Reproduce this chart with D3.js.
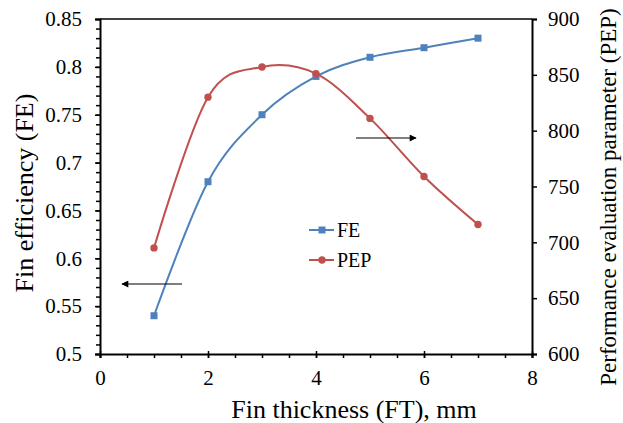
<!DOCTYPE html>
<meta charset="utf-8">
<script src="https://d3js.org/d3.v7.min.js"></script>
<style>
  body { margin: 0; background: #fff; }
  svg, svg text { font-family: "Liberation Serif", "Times New Roman", Times, serif; }
</style>
<body>
<div id="chart"></div>
</body>
<script>
// data
var thickness = [1, 2, 3, 4, 5, 6, 7];
var feValues = [0.54, 0.68, 0.75, 0.79, 0.81, 0.82, 0.83];
var pepValues = [695, 830, 857, 851, 811, 759, 716];
var xTicks = [0, 2, 4, 6, 8];
var feTicks = [0.5, 0.55, 0.6, 0.65, 0.7, 0.75, 0.8, 0.85];
var pepTicks = [600, 650, 700, 750, 800, 850, 900];

var W = 623, H = 423;
var margin = { top: 19, right: 91, bottom: 69, left: 100 },
    width = W - margin.left - margin.right,
    height = H - margin.top - margin.bottom;

var blue = "#4f81bd", red = "#c0504d";

var svg = d3.select("#chart").append("svg")
    .attr("width", W).attr("height", H);

var g = svg.append("g")
    .attr("transform", "translate(" + margin.left + "," + margin.top + ")");

var x = d3.scaleLinear().domain([0, 8]).range([0, width]);
var yL = d3.scaleLinear().domain([0.5, 0.85]).range([height, 0]);
var yR = d3.scaleLinear().domain([600, 900]).range([height, 0]);

// minor ticks
g.append("g")
    .attr("transform", "translate(0," + height + ")")
    .call(d3.axisBottom(x).tickValues(d3.range(0, 8.01, 0.5)).tickSize(4).tickFormat(""))
    .call(s => s.select(".domain").remove());
g.append("g")
    .call(d3.axisLeft(yL).tickValues(d3.range(0.5, 0.851, 0.01)).tickSize(4).tickFormat(""))
    .call(s => s.select(".domain").remove());

// major axes
var xAxis = g.append("g")
    .attr("transform", "translate(0," + height + ")")
    .call(d3.axisBottom(x).tickValues(xTicks).tickSizeOuter(0).tickSize(4).tickFormat(d3.format("d")));
xAxis.selectAll(".tick line").attr("y1", -3);
xAxis.selectAll(".tick text").attr("dy", null).attr("y", 31);

g.append("g")
    .call(d3.axisLeft(yL).tickValues(feTicks).tickSizeOuter(0).tickSize(5).tickPadding(13)
        .tickFormat(d => String(+d.toFixed(2))));

g.append("g")
    .attr("transform", "translate(" + width + ",0)")
    .call(d3.axisRight(yR).tickValues(pepTicks).tickSizeOuter(0).tickSize(5).tickPadding(11));

// top border
g.append("line").attr("x1", 0).attr("x2", width).attr("y1", 0).attr("y2", 0)
    .attr("stroke", "#000").attr("stroke-width", 1.5);

g.selectAll("g").attr("font-family", null);
g.selectAll(".domain").attr("stroke", "#000").attr("stroke-width", 2);
g.selectAll(".tick line").attr("stroke", "#000").attr("stroke-width", 1.5);
g.selectAll(".tick text").attr("font-size", 21).attr("fill", "#000");

// lines
var feLine = d3.line().curve(d3.curveCardinal)
    .x((d, i) => x(thickness[i])).y(d => yL(d));
var pepLine = d3.line().curve(d3.curveCardinal)
    .x((d, i) => x(thickness[i])).y(d => yR(d));

g.append("path").datum(feValues).attr("d", feLine)
    .attr("fill", "none").attr("stroke", blue).attr("stroke-width", 2);
g.append("path").datum(pepValues).attr("d", pepLine)
    .attr("fill", "none").attr("stroke", red).attr("stroke-width", 2);

g.selectAll(".fe").data(feValues).enter().append("rect")
    .attr("x", (d, i) => x(thickness[i]) - 3.5).attr("y", d => yL(d) - 3.5)
    .attr("width", 7).attr("height", 7).attr("fill", blue);
g.selectAll(".pep").data(pepValues).enter().append("circle")
    .attr("cx", (d, i) => x(thickness[i])).attr("cy", d => yR(d))
    .attr("r", 3.7).attr("fill", red);

// arrows
var defs = svg.append("defs");
defs.append("marker").attr("id", "arr").attr("viewBox", "0 0 10 10")
    .attr("refX", 9).attr("refY", 5).attr("markerWidth", 8).attr("markerHeight", 7)
    .attr("markerUnits", "userSpaceOnUse").attr("orient", "auto")
    .append("path").attr("d", "M0,0L10,5L0,10Z").attr("fill", "#000");

svg.append("line").attr("x1", 182).attr("y1", 284).attr("x2", 122).attr("y2", 284)
    .attr("stroke", "#000").attr("stroke-width", 1.2).attr("marker-end", "url(#arr)");
svg.append("line").attr("x1", 356).attr("y1", 138).attr("x2", 416).attr("y2", 138)
    .attr("stroke", "#000").attr("stroke-width", 1.2).attr("marker-end", "url(#arr)");

// legend
var legend = [
    { name: "FE", color: blue, shape: "rect", y: 230 },
    { name: "PEP", color: red, shape: "circle", y: 260 }
];
legend.forEach(function(l) {
    svg.append("line").attr("x1", 309).attr("x2", 334).attr("y1", l.y).attr("y2", l.y)
        .attr("stroke", l.color).attr("stroke-width", 2);
    if (l.shape === "rect") {
        svg.append("rect").attr("x", 318.5).attr("y", l.y - 3.5).attr("width", 7).attr("height", 7).attr("fill", l.color);
    } else {
        svg.append("circle").attr("cx", 322).attr("cy", l.y).attr("r", 3.7).attr("fill", l.color);
    }
    svg.append("text").attr("x", 337).attr("y", l.y + 7).attr("font-size", 20).text(l.name);
});

// axis titles
svg.append("text").attr("x", 354).attr("y", 418)
    .attr("text-anchor", "middle").attr("font-size", 26).text("Fin thickness (FT), mm");
svg.append("text").attr("transform", "translate(33,193) rotate(-90)")
    .attr("text-anchor", "middle").attr("font-size", 26).text("Fin efficiency (FE)");
svg.append("text").attr("transform", "translate(616,197) rotate(-90)")
    .attr("text-anchor", "middle").attr("font-size", 23).text("Performance evaluation parameter (PEP)");
</script>
